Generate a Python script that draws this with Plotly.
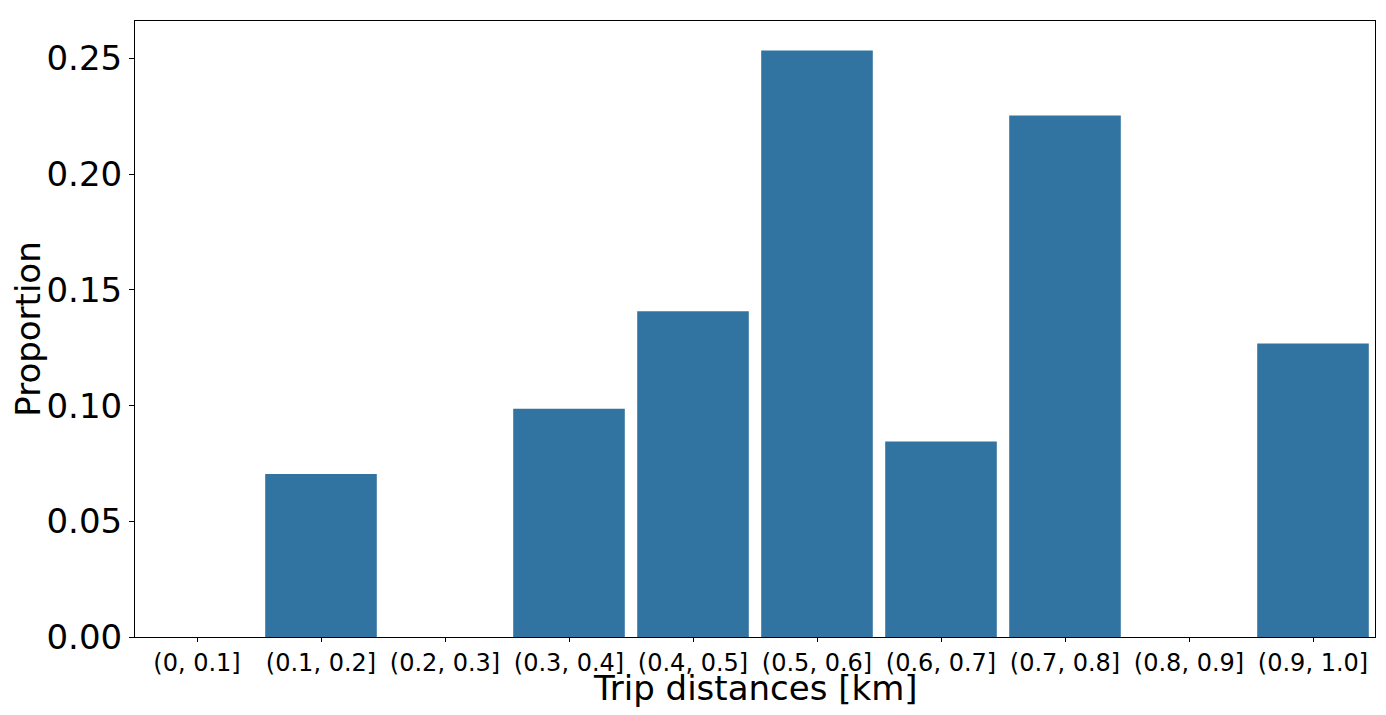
import plotly.graph_objects as go

categories = ["(0, 0.1]", "(0.1, 0.2]", "(0.2, 0.3]", "(0.3, 0.4]", "(0.4, 0.5]",
              "(0.5, 0.6]", "(0.6, 0.7]", "(0.7, 0.8]", "(0.8, 0.9]", "(0.9, 1.0]"]
proportions = [0.0, 0.0704, 0.0, 0.0986, 0.1408, 0.2535, 0.0845, 0.2254, 0.0, 0.1268]
y_ticks = [0.0, 0.05, 0.10, 0.15, 0.20, 0.25]

fig = go.Figure(
    data=[
        go.Bar(
            x=categories,
            y=proportions,
            marker=dict(color="#3274a1", line=dict(width=0)),
        )
    ]
)

# the page body has an 8px margin, so the figure is sized to fit inside it
fig.update_layout(
    width=1370,
    height=699,
    bargap=0.1,
    showlegend=False,
    paper_bgcolor="white",
    plot_bgcolor="white",
    font=dict(family="DejaVu Sans", color="black"),
    margin=dict(l=127, r=3, t=13, b=70),
)

fig.update_xaxes(
    type="category",
    range=[-0.5, 9.5],
    showline=True, linecolor="black", linewidth=1, mirror=True,
    ticks="outside", ticklen=4, tickcolor="black",
    tickfont=dict(size=24),
    showgrid=False,
    automargin=False,
)

# x title as an annotation so it sits just below the tick labels
fig.add_annotation(
    text="Trip distances [km]",
    xref="paper", yref="paper",
    x=0.5, y=-0.082,
    xanchor="center", yanchor="middle",
    showarrow=False,
    font=dict(size=34),
)

fig.update_yaxes(
    range=[0, 0.2662],
    tickvals=y_ticks,
    tickformat=".2f",
    showline=True, linecolor="black", linewidth=1, mirror=True,
    ticks="outside", ticklen=5, tickcolor="black",
    tickfont=dict(size=34),
    showgrid=False, zeroline=False,
    title=dict(text="Proportion", font=dict(size=34), standoff=6),
    automargin=False,
)

fig.write_html("out.html")
